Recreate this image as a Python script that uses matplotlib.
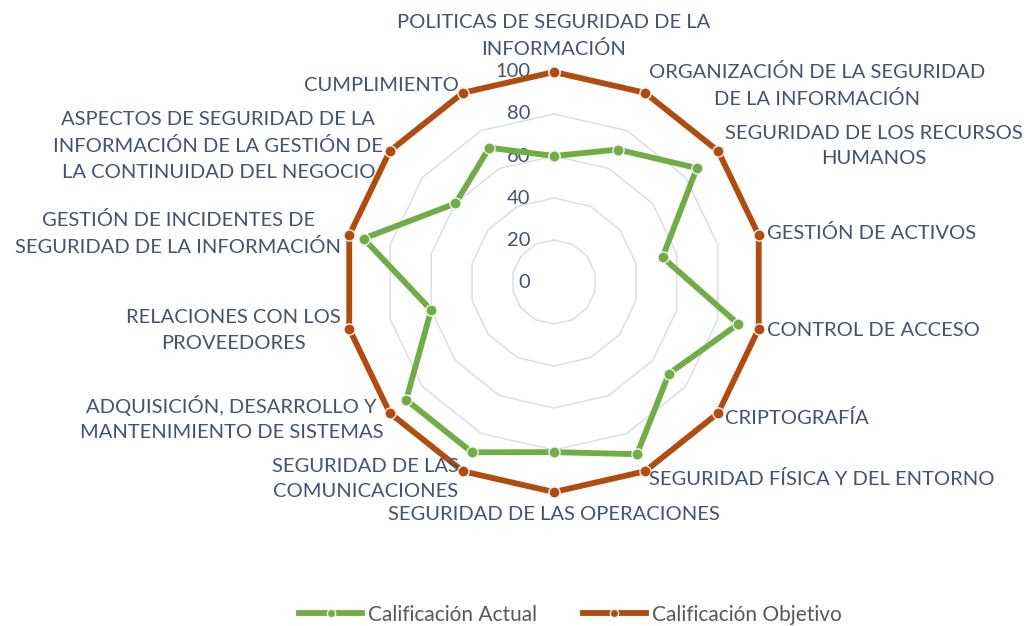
import numpy as np
import matplotlib
matplotlib.use('Agg')
import matplotlib.pyplot as plt

categorias = [
    'POLITICAS DE SEGURIDAD DE LA\nINFORMACIÓN',
    'ORGANIZACIÓN DE LA SEGURIDAD\nDE LA INFORMACIÓN',
    'SEGURIDAD DE LOS RECURSOS\nHUMANOS',
    'GESTIÓN DE ACTIVOS',
    'CONTROL DE ACCESO',
    'CRIPTOGRAFÍA',
    'SEGURIDAD FÍSICA Y DEL ENTORNO',
    'SEGURIDAD DE LAS OPERACIONES',
    'SEGURIDAD DE LAS\nCOMUNICACIONES',
    'ADQUISICIÓN, DESARROLLO Y\nMANTENIMIENTO DE SISTEMAS',
    'RELACIONES CON LOS\nPROVEEDORES',
    'GESTIÓN DE INCIDENTES DE\nSEGURIDAD DE LA INFORMACIÓN',
    'ASPECTOS DE SEGURIDAD DE LA\nINFORMACIÓN DE LA GESTIÓN DE\nLA CONTINUIDAD DEL NEGOCIO',
    'CUMPLIMIENTO',
]
actual = [60, 70, 87, 53, 90, 70, 91, 81, 90, 90, 60, 93, 60, 71]
objetivo = [100] * 14
niveles = [0, 20, 40, 60, 80, 100]

verde = '#70AD47'
naranja = '#B04C0E'
texto = '#44546A'
plt.rcParams['font.family'] = ['Lato', 'DejaVu Sans']

n = len(categorias)
ang = np.linspace(0, 2 * np.pi, n, endpoint=False)
ang_c = np.append(ang, ang[0])

fig = plt.figure(figsize=(10.28, 6.26), dpi=100)
ax = fig.add_axes([0.3346, 0.214, 0.4086, 0.671], projection='polar')
ax.set_theta_zero_location('N')
ax.set_theta_direction(-1)
ax.set_ylim(0, 100)
ax.set_xticks([])
ax.set_yticks([])
ax.grid(False)
ax.spines['polar'].set_visible(False)
ax.patch.set_alpha(0)

# anillos poligonales
for v in niveles[1:]:
    ax.plot(ang_c, [v] * (n + 1), color='#D6DCE4', lw=1, zorder=1, clip_on=False)

# etiquetas del eje radial
for v in niveles:
    ax.annotate(str(v), xy=(0, v), xytext=(-17, 0), textcoords='offset points',
                ha='right', va='center', fontsize=14.5, color=texto)

def serie(vals, color, label):
    ax.plot(ang_c, vals + vals[:1], color=color, lw=4.2, marker='o', ms=8,
            mfc=color, mec='#F2F2F2', mew=1, label=label, zorder=3, clip_on=False)

serie(actual, verde, 'Calificación Actual')
serie(objetivo, naranja, 'Calificación Objetivo')

# etiquetas de categorias
for a, cat in zip(ang, categorias):
    s, c = np.sin(a), np.cos(a)
    if s > 0.1:
        ha = 'left'
    elif s < -0.1:
        ha = 'right'
    else:
        ha = 'center'
    if abs(s) < 0.1:
        va = 'bottom' if c > 0 else 'top'
        d = 10
    else:
        va = 'center'
        d = 6
    ax.annotate(cat, xy=(a, 100), xytext=(d * s, d * c), textcoords='offset points',
                ha=ha, va=va, multialignment='center', fontsize=14.5, color=texto,
                linespacing=1.6)

fig.legend(loc='lower center', bbox_to_anchor=(0.555, -0.028), ncol=2, frameon=False,
           handlelength=3.0, handletextpad=0.3, columnspacing=2.2, fontsize=15,
           markerscale=0.75, labelcolor='#595959')

fig.savefig('out.png', dpi=100)
